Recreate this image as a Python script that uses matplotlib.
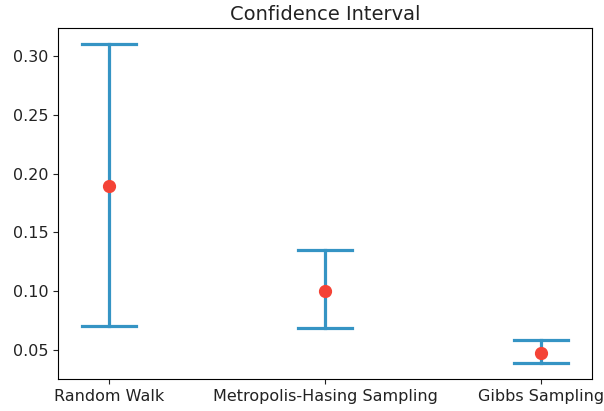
import matplotlib
matplotlib.use("Agg")
import matplotlib.pyplot as plt

labels = ["Random Walk", "Metropolis-Hasing Sampling", "Gibbs Sampling"]
means = [0.1896, 0.1005, 0.0474]
lows = [0.0705, 0.0688, 0.0389]
highs = [0.3105, 0.1348, 0.0586]

line_color = "#3594c4"
dot_color = "#f44336"
cap_width = 0.25

plt.rcParams["font.size"] = 11.5
plt.rcParams["text.color"] = "#222222"
plt.rcParams["xtick.color"] = "#222222"
plt.rcParams["ytick.color"] = "#222222"

fig = plt.figure(figsize=(6.04, 4.11), dpi=100)
ax = fig.add_axes([0.096, 0.078, 0.884, 0.854])

for i, (m, lo, hi) in enumerate(zip(means, lows, highs)):
    x = i + 1
    left = x - cap_width / 2
    right = x + cap_width / 2
    ax.plot([x, x], [hi, lo], color=line_color, lw=2.3)
    ax.plot([left, right], [hi, hi], color=line_color, lw=2.3)
    ax.plot([left, right], [lo, lo], color=line_color, lw=2.3)
    ax.plot(x, m, "o", color=dot_color, ms=8.5)

ax.set_xticks([1, 2, 3])
ax.set_xticklabels(labels)
ax.set_title("Confidence Interval", fontsize=14)

fig.savefig("out.png", dpi=100)
